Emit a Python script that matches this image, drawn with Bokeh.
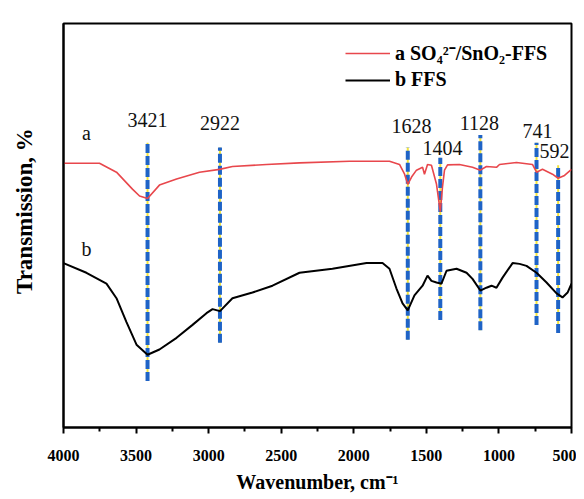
from bokeh.plotting import figure
from bokeh.models import Range1d, Legend, LegendItem, FixedTicker, ColumnDataSource
from bokeh.core.properties import value
from bokeh.embed import file_html
from bokeh.resources import INLINE

# Curve a: SO4 2-/SnO2-FFS
wn_a = [4000, 3752, 3635, 3525, 3476, 3421, 3339, 3221, 3063, 2925, 2836, 2601, 2374,
        2029, 1754, 1685, 1650, 1628, 1602, 1568, 1526, 1513, 1492, 1465, 1430, 1404,
        1389, 1375, 1354, 1272, 1182, 1128, 1086, 1017, 996, 879, 769, 741, 700, 631,
        592, 548, 500]
t_a = [65.4, 65.4, 63.2, 59.0, 57.3, 56.7, 60.0, 61.5, 63.2, 63.9, 64.6, 65.1, 65.5,
       65.9, 65.9, 65.1, 62.7, 60.2, 62.0, 63.7, 64.4, 62.7, 65.1, 64.9, 60.2, 53.4,
       59.5, 63.7, 65.0, 65.1, 64.4, 63.7, 64.6, 64.4, 65.1, 65.6, 65.1, 63.2, 63.9, 62.7,
       61.7, 62.4, 63.9]

# Curve b: FFS
wn_b = [4000, 3842, 3704, 3635, 3566, 3497, 3421, 3339, 3221, 3111, 3015, 2973, 2922,
        2836, 2698, 2560, 2374, 2147, 1912, 1802, 1754, 1706, 1664, 1628, 1582, 1526,
        1492, 1465, 1430, 1396, 1361, 1292, 1223, 1182, 1128, 1086, 1051, 1017, 975,
        906, 858, 810, 741, 672, 603, 562, 527, 500]
t_b = [40.7, 38.3, 35.6, 32.0, 26.1, 20.5, 18.0, 19.3, 22.2, 25.4, 28.3, 29.3, 28.8,
       32.0, 33.4, 35.1, 38.3, 39.3, 40.7, 40.7, 39.3, 34.4, 30.7, 29.0, 32.7, 35.1,
       37.6, 36.3, 35.9, 35.6, 38.8, 39.3, 38.3, 36.8, 33.9, 34.6, 35.1, 34.6, 37.1,
       40.7, 40.5, 40.0, 38.3, 35.9, 33.2, 32.2, 33.4, 35.6]

# Peak markers
peak_wn = [3421, 2922, 1628, 1404, 1128, 741, 592]
peak_labels = ["3421", "2922", "1628", "1404", "1128", "741", "592"]
peak_top = [70.5, 69.3, 69.3, 66.8, 72.4, 70.5, 64.9]
peak_bottom = [11.5, 21.0, 21.7, 26.6, 24.1, 25.4, 23.4]
label_wn = [3421, 2922, 1602, 1389, 1134, 734, 617]
label_t = [76.1, 75.4, 74.6, 69.3, 75.4, 73.4, 68.5]

x_ticks = [4000, 3500, 3000, 2500, 2000, 1500, 1000, 500]
x_minor = [3750, 3250, 2750, 2250, 1750, 1250, 750]

SERIF = "Liberation Serif"

p = figure(width=576, height=495, output_backend="svg", toolbar_location=None,
           x_range=Range1d(4000, 500), y_range=Range1d(0, 100),
           min_border_left=63, min_border_right=5, min_border_top=23,
           min_border_bottom=62)
p.grid.visible = False
p.outline_line_color = "black"
p.outline_line_width = 2
p.background_fill_color = "white"

# axes
xa = p.xaxis[0]
xa.ticker = FixedTicker(ticks=x_ticks, minor_ticks=x_minor)
xa.axis_label = "Wavenumber, cm\u207b\u00b9"
xa.axis_label_text_font = SERIF
xa.axis_label_text_font_style = "bold"
xa.axis_label_text_font_size = "20px"
xa.axis_label_text_color = "black"
xa.axis_label_standoff = 7
xa.major_label_text_font = SERIF
xa.major_label_text_font_style = "bold"
xa.major_label_text_font_size = "16px"
xa.major_label_text_color = "black"
xa.major_label_standoff = 16
xa.axis_line_width = 2
xa.major_tick_line_width = 2
xa.minor_tick_line_width = 2
xa.major_tick_out = 6
xa.major_tick_in = 0
xa.minor_tick_out = 4
xa.minor_tick_in = 0

ya = p.yaxis[0]
ya.ticker = FixedTicker(ticks=[])
ya.major_tick_line_color = None
ya.minor_tick_line_color = None
ya.axis_line_width = 2
ya.axis_label = "\u00a0" * 5 + "Transmission, %"
ya.axis_label_text_font = SERIF
ya.axis_label_text_font_style = "bold"
ya.axis_label_text_font_size = "23px"
ya.axis_label_text_color = "black"
ya.axis_label_standoff = 27

# marker lines
src = ColumnDataSource(dict(x=peak_wn, y0=peak_bottom, y1=peak_top))
p.segment(x0="x", x1="x", y0="y0", y1="y1", source=src, line_color="#f2e33a", line_width=2)
p.segment(x0="x", x1="x", y0="y0", y1="y1", source=src, line_color="#1f63c6",
          line_width=4, line_dash="9 3")

ra = p.line(wn_a, t_a, line_color="#e8474c", line_width=1.6)
rb = p.line(wn_b, t_b, line_color="black", line_width=2)

lsrc = ColumnDataSource(dict(x=label_wn, y=label_t, t=peak_labels))
p.text(x="x", y="y", text="t", source=lsrc, text_font=value(SERIF),
       text_font_size="20px", text_align="center", text_baseline="middle", text_color="#111111")

p.text(x=[3842, 3842], y=[72.9, 44.1], text=["a", "b"], text_font=value(SERIF),
       text_font_size="20px", text_align="center", text_baseline="middle", text_color="#111111")

legend = Legend(items=[LegendItem(label="a SO\u2084\u00b2\u207b/SnO\u2082-FFS", renderers=[ra]),
                       LegendItem(label="b FFS", renderers=[rb])],
                location="top_right")
legend.label_text_font = SERIF
legend.label_text_font_style = "bold"
legend.label_text_font_size = "20px"
legend.label_text_color = "black"
legend.label_height = 20
legend.label_width = 160
legend.glyph_width = 45
legend.border_line_alpha = 0
legend.background_fill_alpha = 0
legend.spacing = 2
legend.margin = 6
p.add_layout(legend)

open("out.html", "w").write(file_html(p, INLINE))
